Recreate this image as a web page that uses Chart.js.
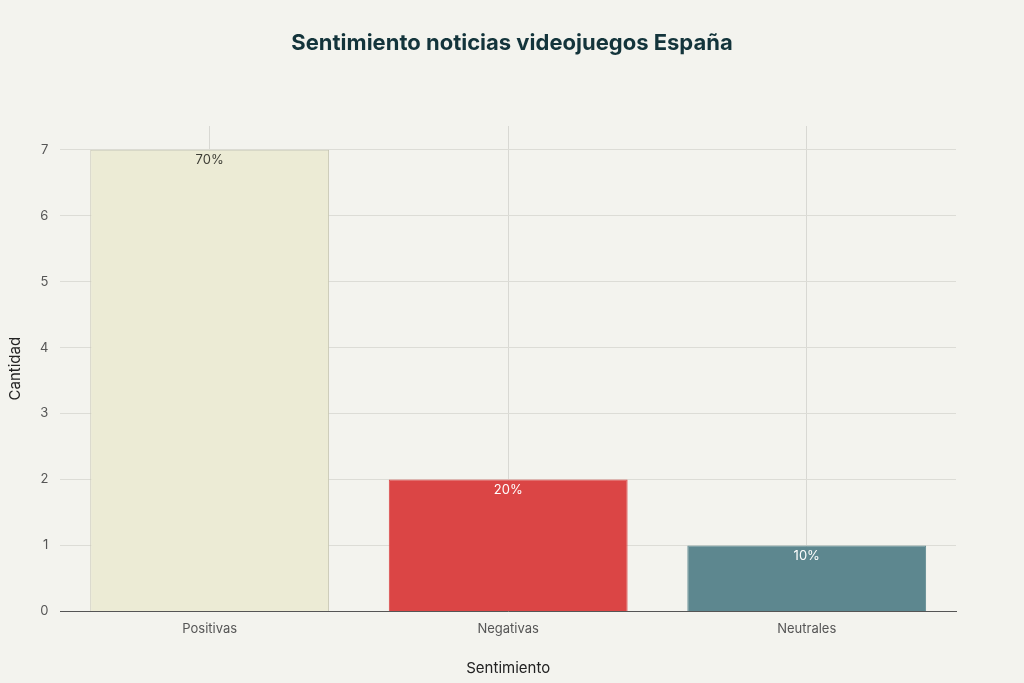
<!DOCTYPE html>
<html><head><meta charset="utf-8">
<script src="https://cdn.jsdelivr.net/npm/chart.js@4"></script>
<style>
  html, body { margin: 0; background: #f3f3ee; }
  #wrap { width: 1024px; height: 683px; }
</style></head>
<body><div id="wrap"><canvas id="c"></canvas></div>
<script>
  const categories = ["Positivas", "Negativas", "Neutrales"];
  const counts = [7, 2, 1];
  const pctLabels = ["70%", "20%", "10%"];
  const barColors = ["#ecebd5", "#db4545", "#5d878f"];
  const labelColors = ["#3d3d35", "#ffffff", "#ffffff"];
  const titleText = "Sentimiento noticias videojuegos España";

  const font = "Inter, 'Open Sans', sans-serif";

  // percent text just under each bar's top edge, and the page-centred title
  const extras = {
    id: "extras",
    afterDatasetsDraw(chart) {
      const ctx = chart.ctx;
      chart.getDatasetMeta(0).data.forEach((bar, i) => {
        ctx.save();
        ctx.font = "13px " + font;
        ctx.fillStyle = labelColors[i];
        ctx.textAlign = "center";
        ctx.textBaseline = "top";
        ctx.fillText(pctLabels[i], bar.x, bar.y + 4);
        ctx.restore();
      });
      ctx.save();
      ctx.font = "bold 22px " + font;
      ctx.fillStyle = "#13343b";
      ctx.textAlign = "center";
      ctx.textBaseline = "middle";
      ctx.fillText(titleText, chart.width / 2, 43);
      ctx.restore();
    }
  };

  new Chart(document.getElementById("c"), {
    type: "bar",
    data: {
      labels: categories,
      datasets: [{
        data: counts,
        backgroundColor: barColors,
        borderColor: ["#c8c7b4", "#db4545", "#5d878f"],
        borderWidth: 1,
        categoryPercentage: 0.8,
        barPercentage: 1
      }]
    },
    options: {
      responsive: true,
      maintainAspectRatio: false,
      animation: false,
      layout: { padding: { left: 2, right: 68, top: 126, bottom: 0 } },
      plugins: {
        legend: { display: false },
        tooltip: { enabled: false }
      },
      scales: {
        x: {
          grid: { offset: false, color: "#d8d8d3", drawTicks: false },
          border: { color: "#555555" },
          ticks: { color: "#555555", font: { family: font, size: 13 }, padding: 10 },
          title: { display: true, text: "Sentimiento", color: "#222", font: { family: font, size: 15 }, padding: { top: 12, bottom: 6 } }
        },
        y: {
          min: 0, max: 7.36,
          grid: { color: "#dcdcd6", drawTicks: false },
          border: { display: false },
          ticks: { stepSize: 1, includeBounds: false, color: "#555555", font: { family: font, size: 13 }, padding: 12 },
          title: { display: true, text: "Cantidad", color: "#222", font: { family: font, size: 15 }, padding: { bottom: 4 } }
        }
      }
    },
    plugins: [extras]
  });
</script></body></html>
